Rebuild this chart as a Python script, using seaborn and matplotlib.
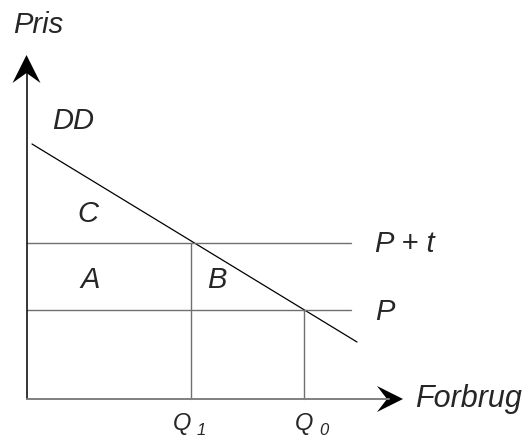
import matplotlib
matplotlib.use("Agg")
import matplotlib.pyplot as plt
import seaborn as sns
import pandas as pd
from matplotlib.patches import Polygon

sns.set_style("white")
plt.rcParams['font.family'] = ['Liberation Sans', 'DejaVu Sans']

# Data (in diagram units: quantity, price)
demand_q = [5.5, 330.5]
demand_p = [255, 57]
price_levels = [156, 89]          # P + t, P
price_labels = ["P + t", "P"]
quantities = [164.5, 277.5]       # Q1, Q0
quantity_subs = ["1", "0"]
line_end = 324.5
area_labels = ["C", "A", "B"]

fig = plt.figure(figsize=(5.27, 4.41), dpi=100)
ax = fig.add_axes([0, 0, 1, 1])
ax.set_xlim(-26.5, 500.5)
ax.set_ylim(-42, 399)
ax.axis('off')

# Demand curve
dd = pd.DataFrame({"q": demand_q, "p": demand_p})
sns.lineplot(data=dd, x="q", y="p", ax=ax, color="black", lw=0.9)

# Price lines
for lvl in price_levels:
    hl = pd.DataFrame({"q": [0, line_end], "p": [lvl, lvl]})
    sns.lineplot(data=hl, x="q", y="p", ax=ax, color="#707070", lw=1.0)

# Quantity lines
for q, lvl in zip(quantities, price_levels):
    ax.plot([q, q], [0, lvl], color="#707070", lw=1.0)

# Axes with arrows
ax.plot([0, 0], [0, 328], color="black", lw=1.1)
ax.plot([0, 362], [0, 0], color="#808080", lw=1.4)
ax.add_patch(Polygon([(0, 344), (-14, 316), (0, 326), (14, 316)], closed=True,
                     color="black", lw=0))
ax.add_patch(Polygon([(376.5, 0), (350.5, 13), (360.5, 0), (350.5, -13)], closed=True,
                     color="black", lw=0))

fs = 21
kw = dict(fontsize=fs, style='italic', va='baseline', ha='left')
ax.text(-13.5, 366, "Pris", **kw)
ax.text(388.5, -8, "Forbrug", fontsize=22, style='italic', va='baseline', ha='left')
ax.text(25.5, 270, "DD", **kw)
ax.text(348.5, 147, price_labels[0], **kw)
ax.text(348.5, 79, price_labels[1], **kw)
ax.text(50.5, 177, area_labels[0], **kw)
ax.text(53.5, 111, area_labels[1], **kw)
ax.text(180.5, 111, area_labels[2], **kw)
q_off = [-18, -9]
for q, s, o in zip(quantities, quantity_subs, q_off):
    ax.text(q + o, -31, "Q", fontsize=17, style='italic', va='baseline', ha='left')
    ax.text(q + o + 24, -36, s, fontsize=12, style='italic', va='baseline', ha='left')

fig.savefig("out.png", dpi=100)
